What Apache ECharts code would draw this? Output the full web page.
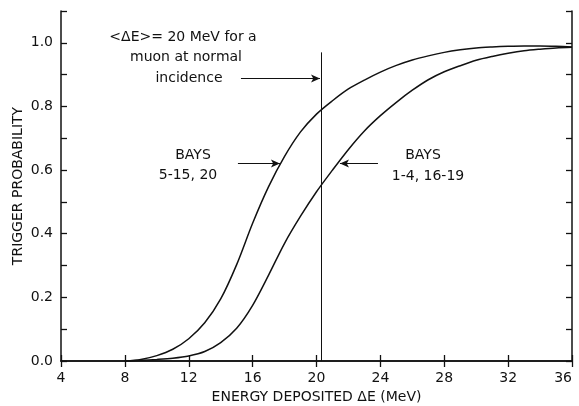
<!DOCTYPE html>
<html>
<head>
<meta charset="utf-8">
<script src="https://cdn.jsdelivr.net/npm/echarts@6/dist/echarts.min.js"></script>
<style>
  html, body { margin: 0; padding: 0; background: #fff; }
  #chart { width: 579px; height: 406px; }
</style>
</head>
<body>
<div id="chart"></div>
<script>
// Deposited energy (MeV) and trigger probability for the two bay groups
const energy = [8, 9, 10, 11, 12, 13, 14, 15, 16, 17, 18, 19, 20, 21, 22, 23, 24, 25, 26, 27, 28, 29, 30, 31, 32, 33, 34, 35, 36];
const bays5to15and20 = [0, 0.005, 0.017, 0.037, 0.07, 0.12, 0.195, 0.303, 0.433, 0.548, 0.643, 0.72, 0.776, 0.818, 0.855, 0.883, 0.908, 0.929, 0.946, 0.959, 0.970, 0.978, 0.984, 0.987, 0.989, 0.990, 0.990, 0.989, 0.987];
const bays1to4and16to19 = [0, 0.002, 0.005, 0.009, 0.016, 0.03, 0.058, 0.103, 0.175, 0.27, 0.37, 0.455, 0.532, 0.60, 0.665, 0.723, 0.771, 0.813, 0.851, 0.884, 0.909, 0.928, 0.945, 0.957, 0.967, 0.975, 0.980, 0.984, 0.986];

// Mean deposit of a normally incident muon, and the arrow anchors (data units)
const muonMeanE = 20.3;
const muonLineTop = 0.97;
const muonArrow = [[15.27, 0.888], [20.22, 0.888]];
const leftArrow = [[15.08, 0.621], [17.71, 0.621]];
const rightArrow = [[23.85, 0.621], [21.47, 0.621]];

const xTicks = [4, 8, 12, 16, 20, 24, 28, 32, 36];
const yLabels = ['0.0', '0.2', '0.4', '0.6', '0.8', '1.0'];

const ink = '#111';
const font = 'DejaVu Sans';

function pairs(xs, ys) { return xs.map((x, i) => [x, ys[i]]); }

function arrowLine(p) {
  return {
    silent: true,
    symbol: ['none', 'arrow'],
    symbolSize: [6, 9],
    label: { show: false },
    lineStyle: { color: ink, width: 1, type: 'solid' },
    data: [[{ coord: p[0] }, { coord: p[1] }]]
  };
}

function note(x, y, text) {
  return {
    type: 'text', x: x, y: y,
    style: { text: text, fontFamily: font, fontSize: 14, fill: ink, align: 'center', verticalAlign: 'middle' }
  };
}

const chart = echarts.init(document.getElementById('chart'), null, { renderer: 'canvas' });

const axisLine = { show: true, lineStyle: { color: ink, width: 1.5 } };
const tickStyle = { color: ink, width: 1.3 };

chart.setOption({
  animation: false,
  backgroundColor: '#fff',
  grid: { left: 61, right: 7, top: 11, bottom: 45, containLabel: false, outerBoundsMode: 'none' },
  xAxis: [{
    type: 'value', min: xTicks[0], max: xTicks[xTicks.length - 1], interval: 4,
    position: 'bottom',
    name: 'ENERGY DEPOSITED ΔE (MeV)', nameLocation: 'middle', nameGap: 29,
    nameTextStyle: { fontFamily: font, fontSize: 14, color: ink },
    axisLine: axisLine,
    axisTick: { inside: true, length: 6, lineStyle: tickStyle },
    axisLabel: { fontFamily: font, fontSize: 14, color: ink, margin: 10, alignMaxLabel: 'right' },
    splitLine: { show: false }
  }, {
    type: 'value', min: xTicks[0], max: xTicks[xTicks.length - 1], interval: 4,
    position: 'top',
    axisLine: axisLine,
    axisTick: { inside: true, length: 6, lineStyle: tickStyle },
    axisLabel: { show: false },
    splitLine: { show: false }
  }],
  yAxis: [{
    type: 'value', min: 0, max: 1.1, interval: 0.1,
    position: 'left',
    name: 'TRIGGER PROBABILITY', nameLocation: 'middle', nameGap: 36,
    nameMoveOverlap: false,
    nameTextStyle: { fontFamily: font, fontSize: 14, color: ink },
    axisLine: axisLine,
    axisTick: { inside: true, length: 6, lineStyle: tickStyle },
    axisLabel: {
      fontFamily: font, fontSize: 14, color: ink, margin: 8,
      formatter: v => {
        const s = v.toFixed(1);
        return yLabels.indexOf(s) >= 0 ? s : '';
      }
    },
    splitLine: { show: false }
  }, {
    type: 'value', min: 0, max: 1.1, interval: 0.1,
    position: 'right',
    axisLine: axisLine,
    axisTick: { inside: true, length: 6, lineStyle: tickStyle },
    axisLabel: { show: false },
    splitLine: { show: false }
  }],
  series: [{
    name: 'BAYS 5-15, 20',
    type: 'line',
    data: pairs(energy, bays5to15and20),
    smooth: 0.3,
    showSymbol: false,
    lineStyle: { color: ink, width: 1.5 },
    markLine: {
      silent: true,
      symbol: ['none', 'none'],
      label: { show: false },
      lineStyle: { color: ink, width: 1, type: 'solid' },
      data: [[{ coord: [muonMeanE, 0] }, { coord: [muonMeanE, muonLineTop] }]]
    }
  }, {
    name: 'BAYS 1-4, 16-19',
    type: 'line',
    data: pairs(energy, bays1to4and16to19),
    smooth: 0.3,
    showSymbol: false,
    lineStyle: { color: ink, width: 1.5 }
  }, {
    type: 'line', data: [], markLine: arrowLine(muonArrow)
  }, {
    type: 'line', data: [], markLine: arrowLine(leftArrow)
  }, {
    type: 'line', data: [], markLine: arrowLine(rightArrow)
  }],
  graphic: [
    note(183, 37, '<ΔE>= 20 MeV for a'),
    note(186, 57, 'muon at normal'),
    note(189, 78, 'incidence'),
    note(193, 155, 'BAYS'),
    note(188, 175, '5-15, 20'),
    note(423, 155, 'BAYS'),
    note(428, 176, '1-4, 16-19')
  ]
});
</script>
</body>
</html>
